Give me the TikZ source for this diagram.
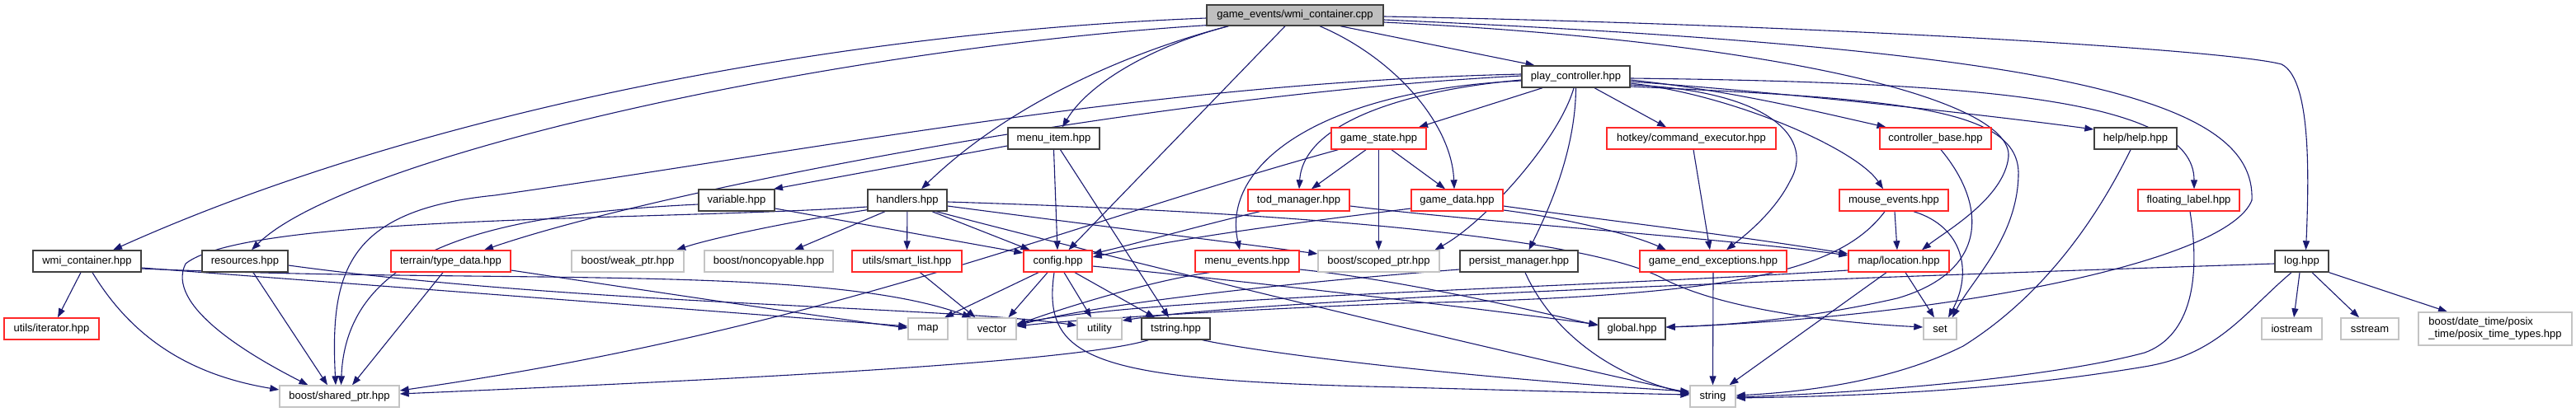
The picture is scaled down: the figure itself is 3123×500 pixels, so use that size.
\documentclass[tikz,border=0pt]{standalone}
\usepackage{fontspec}
\newfontfamily\lsans{Liberation Sans}
\usetikzlibrary{arrows.meta,calc,backgrounds}
\definecolor{edgec}{RGB}{25,25,112}
\definecolor{bordk}{RGB}{64,64,64}
\definecolor{bordg}{RGB}{196,196,196}
\definecolor{bordr}{RGB}{255,40,40}
\definecolor{rootf}{RGB}{191,191,191}
\tikzset{
  nb/.style={draw=bordk, line width=1.4pt, fill=white, inner sep=0pt, minimum height=26pt, font=\lsans\fontsize{13}{15}\selectfont},
  nr/.style={nb, draw=bordr},
  ng/.style={nb, draw=bordg},
  nroot/.style={nb, fill=rootf},
  edge/.style={draw=edgec, line width=1.1pt, -{Triangle[length=11pt,width=8pt]}},
}
\begin{document}
\begin{tikzpicture}[x=1pt,y=-1pt]
\useasboundingbox (0,0) rectangle (3123,500);
% row 1-2
\node[nroot, minimum width=214pt, minimum height=25pt] (cpp) at (1570,18.5) {game\_events/wmi\_container.cpp};
\node[nb, minimum width=131pt] (play) at (1910.5,93) {play\_controller.hpp};
% row 3
\node[nb, minimum width=111pt] (menuitem) at (1277.5,168) {menu\_item.hpp};
\node[nr, minimum width=115pt] (gstate) at (1671.5,168) {game\_state.hpp};
\node[nr, minimum width=205pt] (cmdexec) at (2050.5,168) {hotkey/command\_executor.hpp};
\node[nr, minimum width=135pt] (ctrlbase) at (2346.5,168) {controller\_base.hpp};
\node[nb, minimum width=100pt] (help) at (2589,168) {help/help.hpp};
% row 4
\node[nb, minimum width=92pt] (variable) at (893,243) {variable.hpp};
\node[nb, minimum width=96pt] (handlers) at (1100,243) {handlers.hpp};
\node[nr, minimum width=123pt] (tod) at (1574.5,243) {tod\_manager.hpp};
\node[nr, minimum width=111pt] (gdata) at (1766.5,243) {game\_data.hpp};
\node[nr, minimum width=132pt] (mouse) at (2296,243) {mouse\_events.hpp};
\node[nr, minimum width=123pt] (floating) at (2653.5,243) {floating\_label.hpp};
% row 5
\node[nb, minimum width=131pt] (wmih) at (105.5,317) {wmi\_container.hpp};
\node[nb, minimum width=104pt] (resources) at (297,317) {resources.hpp};
\node[nr, minimum width=145pt] (typedata) at (546.5,317) {terrain/type\_data.hpp};
\node[ng, minimum width=136pt] (weakptr) at (761,317) {boost/weak\_ptr.hpp};
\node[ng, minimum width=156pt] (noncopy) at (932,317) {boost/noncopyable.hpp};
\node[nr, minimum width=133pt] (smartlist) at (1099.5,317) {utils/smart\_list.hpp};
\node[nr, minimum width=83pt] (config) at (1282.5,317) {config.hpp};
\node[nr, minimum width=126pt] (menuev) at (1512,317) {menu\_events.hpp};
\node[ng, minimum width=147pt] (scoped) at (1671.5,317) {boost/scoped\_ptr.hpp};
\node[nb, minimum width=143pt] (persist) at (1841.5,317) {persist\_manager.hpp};
\node[nr, minimum width=178pt] (gameend) at (2077,317) {game\_end\_exceptions.hpp};
\node[nr, minimum width=122pt] (location) at (2302,317) {map/location.hpp};
\node[nb, minimum width=65pt] (log) at (2790.5,317) {log.hpp};
% row 6
\node[nr, minimum width=115pt] (iterator) at (62.5,399) {utils/iterator.hpp};
\node[ng, minimum width=48pt] (map) at (1125,399) {map};
\node[ng, minimum width=59pt] (vector) at (1202.5,399) {vector};
\node[ng, minimum width=54pt] (utility) at (1333,399) {utility};
\node[nb, minimum width=83pt] (tstring) at (1425.5,399) {tstring.hpp};
\node[nb, minimum width=81pt] (global) at (1978.5,399) {global.hpp};
\node[ng, minimum width=40pt] (set) at (2352,399) {set};
\node[ng, minimum width=73pt] (iostream) at (2778.5,399) {iostream};
\node[ng, minimum width=70pt] (sstream) at (2873,399) {sstream};
\node[ng, minimum width=186pt, minimum height=40pt, align=left] (datetime) at (3025,399) {boost/date\_time/posix\\\_time/posix\_time\_types.hpp};
% row 7
\node[ng, minimum width=145pt] (shared) at (411.5,481) {boost/shared\_ptr.hpp};
\node[ng, minimum width=55pt] (string) at (2076.5,481) {string};

\begin{pgfonlayer}{background}
% cpp
\draw[edge] ($(cpp.west)+(0,3.5)$) .. controls (1000,40) and (500,140) .. ($(wmih.north)+(31.5,0)$);
\draw[edge] ($(cpp.south west)+(0,-1)$) .. controls (1000,60) and (420,190) .. ($(resources.north)+(8,0)$);
\draw[edge] ($(cpp.south west)+(27,0)$) .. controls (1380,60) and (1230,120) .. ($(handlers.north)+(17,0)$);
\draw[edge] ($(cpp.south west)+(27,0)$) .. controls (1400,55) and (1320,100) .. ($(menuitem.north)+(10.5,0)$);
\draw[edge] ($(cpp.south)+(-12,0)$) -- ($(config.north)+(13,0)$);
\draw[edge] ($(cpp.south)+(30,0)$) .. controls (1690,70) and (1760,150) .. ($(gdata.north)+(-3.5,0)$);
\draw[edge] ($(cpp.south)+(55,0)$) -- ($(play.north)+(-50,0)$);
\draw[edge] ($(cpp.east)+(0,1.5)$) .. controls (2200,30) and (2700,60) .. (2766,78) .. controls (2800,95) and (2800,200) .. ($(log.north)+(5,0)$);
\draw[edge] ($(cpp.east)+(0,5.5)$) .. controls (2500,60) and (2735,120) .. (2730,243) .. controls (2700,320) and (2350,385) .. ($(global.east)+(0,-2)$);
\draw[edge] ($(cpp.east)+(0,8.5)$) .. controls (2150,50) and (2440,120) .. (2435,190) .. controls (2430,240) and (2360,280) .. ($(location.north)+(28,0)$);
% play_controller
\draw[edge] ($(play.south)+(-40.5,0)$) -- ($(gstate.north)+(48.5,0)$);
\draw[edge] ($(play.south)+(-2.5,0)$) .. controls (1890,170) and (1800,270) .. ($(scoped.north)+(68,0)$);
\draw[edge] (play.south) .. controls (1910,180) and (1880,250) .. ($(persist.north)+(12,0)$);
\draw[edge] ($(play.south)+(22.5,0)$) -- ($(cmdexec.north)+(-30.5,0)$);
\draw[edge] ($(play.east)+(0,4)$) .. controls (2100,110) and (2200,135) .. ($(ctrlbase.north)+(-60,0)$);
\draw[edge] ($(play.east)+(0,6)$) .. controls (2200,115) and (2450,145) .. ($(help.west)+(0,-11)$);
\draw[edge] ($(play.east)+(0,2)$) .. controls (2400,100) and (2660,120) .. ($(floating.north)+(6.5,0)$);
\draw[edge] ($(play.east)+(0,8)$) .. controls (2100,115) and (2250,180) .. ($(mouse.north)+(-13,0)$);
\draw[edge] ($(play.east)+(0,10)$) .. controls (2150,110) and (2200,170) .. (2170,220) .. controls (2150,260) and (2110,290) .. ($(gameend.north)+(16,0)$);
\draw[edge] ($(play.west)+(0,4)$) .. controls (1700,110) and (1580,150) .. ($(tod.north)+(0.5,0)$);
\draw[edge] ($(play.west)+(0,5)$) .. controls (1600,110) and (1480,200) .. ($(menuev.north)+(-9,0)$);
\draw[edge] ($(play.west)+(0,-1)$) .. controls (1400,115) and (800,230) .. ($(typedata.north)+(40.5,0)$);
\draw[edge] ($(play.west)+(0,-3)$) .. controls (1400,100) and (1000,180) .. (600,237) .. controls (420,255) and (400,330) .. ($(shared.north)+(-4.5,0)$);
\draw[edge] ($(play.east)+(0,12)$) .. controls (2300,120) and (2450,130) .. (2447,213) .. controls (2445,290) and (2390,340) .. ($(set.north)+(15,0)$);
% menu_item
\draw[edge] ($(menuitem.west)+(0,9)$) -- ($(variable.north)+(45,0)$);
\draw[edge] (menuitem.south) -- ($(config.north)+(-0.5,0)$);
\draw[edge] ($(menuitem.south)+(8,0)$) -- ($(tstring.north)+(-8.5,0)$);
% game_state
\draw[edge] ($(gstate.south)+(-15.5,0)$) -- ($(tod.north)+(15.5,0)$);
\draw[edge] ($(gstate.south)+(15.5,0)$) -- ($(gdata.north)+(-14.5,0)$);
\draw[edge] (gstate) -- (scoped);
\draw[edge] ($(gstate.south west)+(9,0)$) .. controls (1300,270) and (1000,400) .. ($(shared.east)+(0,-7)$);
% tod_manager, game_data
\draw[edge] ($(tod.south west)+(15,0)$) .. controls (1450,275) and (1380,295) .. ($(config.east)+(0,-9)$);
\draw[edge] ($(tod.east)+(0,7)$) .. controls (1800,270) and (2100,290) .. ($(location.west)+(0,-7)$);
\draw[edge] ($(gdata.west)+(0,10)$) .. controls (1600,267) and (1450,285) .. ($(config.east)+(0,-5)$);
\draw[edge] ($(gdata.east)+(0,7)$) .. controls (1950,268) and (2100,285) .. ($(location.west)+(0,-9)$);
\draw[edge] ($(gdata.east)+(0,12)$) .. controls (1900,265) and (1980,285) .. ($(gameend.north)+(-57,0)$);
% variable, handlers
\draw[edge] ($(variable.east)+(0,10)$) -- ($(config.west)+(0,-10)$);
\draw[edge] ($(variable.west)+(0,5)$) .. controls (600,260) and (420,300) .. ($(shared.north)+(2,0)$);
\draw[edge] ($(handlers.west)+(0,8)$) .. controls (800,268) and (300,260) .. (225,320) .. controls (200,370) and (300,430) .. ($(shared.north)+(-38,0)$);
\draw[edge] ($(handlers.south)+(30,0)$) -- ($(config.north)+(-34,0)$);
\draw[edge] (handlers) -- (smartlist);
\draw[edge] ($(handlers.south)+(-27,0)$) -- ($(noncopy.north)+(31,0)$);
\draw[edge] ($(handlers.south west)+(0,-2)$) .. controls (950,270) and (860,290) .. ($(weakptr.north)+(59,0)$);
\draw[edge] ($(handlers.east)+(0,7)$) .. controls (1300,270) and (1500,295) .. ($(scoped.west)+(0,-9)$);
\draw[edge] ($(handlers.east)+(0,2)$) .. controls (1700,262) and (1950,300) .. (2020,340) .. controls (2100,380) and (2250,393) .. ($(set.west)+(0,-2)$);
\draw[edge] ($(handlers.south)+(35,0)$) .. controls (1300,300) and (1700,400) .. ($(string.west)+(0,-4)$);
% left group
\draw[edge] ($(resources.south)+(10,0)$) -- ($(shared.north)+(-14.5,0)$);
\draw[edge] ($(typedata.south)+(-9.5,0)$) -- ($(shared.north)+(15.5,0)$);
\draw[edge] ($(wmih.south)+(6.5,0)$) .. controls (160,410) and (230,455) .. ($(shared.west)+(0,-8)$);
\draw[edge] ($(wmih.south)+(-7.5,0)$) -- ($(iterator.north)+(7.5,0)$);
\draw[edge] ($(wmih.east)+(0,8)$) .. controls (500,350) and (900,380) .. ($(map.west)+(0,-3)$);
\draw[edge] ($(wmih.east)+(0,9)$) .. controls (600,345) and (1000,320) .. ($(vector.north)+(-25,0)$);
\draw[edge] ($(resources.east)+(0,5)$) .. controls (700,370) and (1150,372) .. ($(utility.west)+(0,-4)$);
\draw[edge] ($(typedata.east)+(0,11)$) .. controls (800,355) and (1000,385) .. ($(map.west)+(0,-1)$);
\draw[edge] ($(smartlist.south)+(16,0)$) -- ($(vector.north)+(-20,0)$);
% config
\draw[edge] ($(config.south)+(-23.5,0)$) -- ($(map.north)+(20,0)$);
\draw[edge] ($(config.south)+(-12.5,0)$) -- ($(vector.north)+(20,0)$);
\draw[edge] ($(config.south)+(7.5,0)$) -- ($(utility.north)+(-10,0)$);
\draw[edge] ($(config.south)+(20.5,0)$) -- ($(tstring.north)+(-25.5,0)$);
\draw[edge] ($(config.south)+(-4.5,0)$) .. controls (1262,440) and (1330,462) .. (1700,470) .. controls (1850,474) and (1950,477) .. ($(string.west)+(0,-2)$);
\draw[edge] ($(config.east)+(0,6)$) .. controls (1500,340) and (1800,375) .. ($(global.west)+(0,-5)$);
% tstring, menu_events, persist
\draw[edge] ($(tstring.south west)+(9,0)$) .. controls (1300,440) and (900,460) .. ($(shared.east)+(0,-3)$);
\draw[edge] ($(tstring.south east)+(-10,0)$) .. controls (1550,432) and (1800,460) .. ($(string.west)+(0,-6)$);
\draw[edge] ($(menuev.south west)+(18,0)$) .. controls (1400,340) and (1300,370) .. ($(vector.east)+(0,-5)$);
\draw[edge] ($(menuev.east)+(0,10)$) .. controls (1700,340) and (1850,375) .. ($(global.west)+(0,-4)$);
\draw[edge] ($(persist.south)+(7.5,0)$) .. controls (1880,400) and (1950,455) .. ($(string.west)+(0,-3)$);
\draw[edge] ($(persist.west)+(0,10)$) .. controls (1600,340) and (1350,365) .. ($(vector.east)+(0,-4)$);
% right group
\draw[edge] (gameend.south) -- (string.north);
\draw[edge] ($(cmdexec.south)+(2.5,0)$) -- ($(gameend.north)+(-4,0)$);
\draw[edge] ($(ctrlbase.south)+(6.5,0)$) .. controls (2410,250) and (2410,330) .. (2300,362) .. controls (2200,385) and (2100,395) .. ($(global.east)+(0,-2)$);
\draw[edge] ($(mouse.south)+(1,0)$) -- ($(location.north)+(-2,0)$);
\draw[edge] ($(mouse.south)+(24,0)$) .. controls (2380,275) and (2392,330) .. ($(set.north)+(10,0)$);
\draw[edge] ($(mouse.south)+(-11,0)$) .. controls (2230,330) and (2100,360) .. (1700,368) .. controls (1500,376) and (1300,388) .. ($(vector.east)+(0,-3)$);
\draw[edge] ($(location.south)+(-15,0)$) -- ($(string.north)+(20,0)$);
\draw[edge] ($(location.south)+(8,0)$) -- ($(set.north)+(-7,0)$);
\draw[edge] ($(location.west)+(0,11)$) .. controls (1900,350) and (1400,360) .. ($(vector.east)+(0,-6)$);
\draw[edge] ($(log.west)+(0,3)$) .. controls (2400,332) and (1550,360) .. ($(utility.east)+(0,-10)$);
\draw[edge] ($(help.south)+(-6,0)$) .. controls (2530,290) and (2460,370) .. (2380,420) .. controls (2300,460) and (2200,475) .. ($(string.east)+(0,-1)$);
\draw[edge] ($(floating.south)+(1.5,0)$) .. controls (2670,350) and (2650,410) .. (2600,428) .. controls (2500,455) and (2300,475) .. ($(string.east)+(0,1)$);
\draw[edge] ($(log.south)+(-12.5,0)$) .. controls (2720,380) and (2690,430) .. (2600,445) .. controls (2450,470) and (2300,480) .. ($(string.east)+(0,2)$);
\draw[edge] ($(log.south)+(-2.5,0)$) -- ($(iostream.north)+(2.5,0)$);
\draw[edge] ($(log.south)+(12.5,0)$) -- ($(sstream.north)+(-13,0)$);
\draw[edge] (log.south east) -- ($(datetime.north)+(-58,0)$);
\end{pgfonlayer}
\end{tikzpicture}
\end{document}
